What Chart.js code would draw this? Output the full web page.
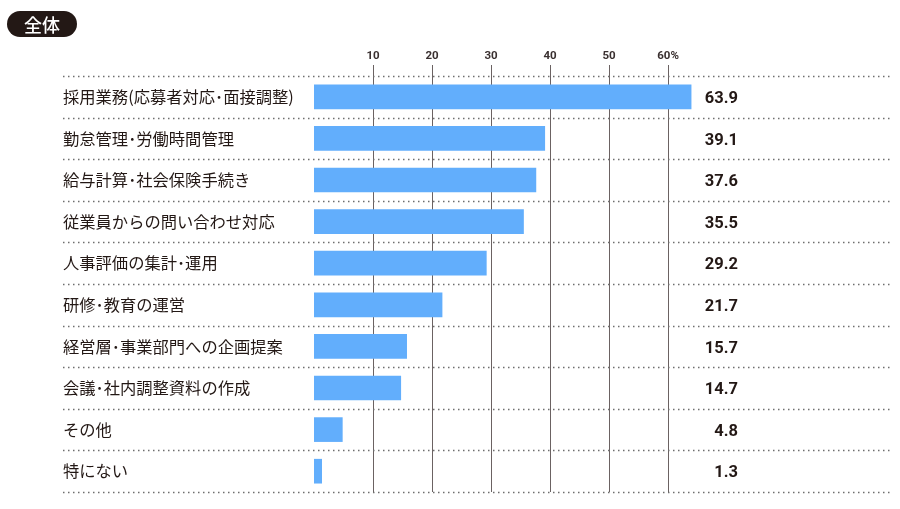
<!DOCTYPE html>
<html lang="ja">
<head>
    <meta charset="UTF-8">
    <title>全体</title>
    <script src="https://cdn.jsdelivr.net/npm/chart.js"></script>
    <style>
        body { margin: 0; background: #fff; font-family: "Noto Sans CJK JP", sans-serif; }
        #wrap { position: relative; width: 900px; height: 509px; }
        #badge {
            position: absolute; left: 7px; top: 11px; width: 70px; height: 26px;
            background: #231815; color: #fff; border-radius: 13px;
            font-size: 18px; font-weight: 500; line-height: 26px; text-align: center;
        }
        canvas { position: absolute; left: 0; top: 0; }
    </style>
</head>
<body>
<div id="wrap">
    <canvas id="chart" width="900" height="509"></canvas>
    <div id="badge">全体</div>
</div>
<script>
const categories = [
    '採用業務(応募者対応･面接調整)',
    '勤怠管理･労働時間管理',
    '給与計算･社会保険手続き',
    '従業員からの問い合わせ対応',
    '人事評価の集計･運用',
    '研修･教育の運営',
    '経営層･事業部門への企画提案',
    '会議･社内調整資料の作成',
    'その他',
    '特にない'
];
const values = [63.9, 39.1, 37.6, 35.5, 29.2, 21.7, 15.7, 14.7, 4.8, 1.3];
const xTicks = [10, 20, 30, 40, 50, 60];

const ink = '#231815';

// dotted row separators + value labels
const rowPlugin = {
    id: 'rows',
    beforeDatasetsDraw(chart) {
        const ctx = chart.ctx, area = chart.chartArea;
        const step = (area.bottom - area.top) / categories.length;
        ctx.save();
        ctx.strokeStyle = '#6e6e6e';
        ctx.lineWidth = 1.5;
        ctx.setLineDash([1.5, 3.5]);
        for (let i = 0; i <= categories.length; i++) {
            const py = Math.round(area.top + i * step) + 0.5;
            ctx.beginPath();
            ctx.moveTo(63, py);
            ctx.lineTo(area.right, py);
            ctx.stroke();
        }
        ctx.restore();
    },
    afterDatasetsDraw(chart) {
        const ctx = chart.ctx, y = chart.scales.y;
        ctx.save();
        ctx.fillStyle = ink;
        ctx.font = 'bold 16.5px Roboto, "Noto Sans", sans-serif';
        ctx.textAlign = 'right';
        ctx.textBaseline = 'middle';
        values.forEach((v, i) => {
            ctx.fillText(v.toFixed(1), 738, y.getPixelForValue(i) + 2);
        });
        ctx.restore();
    }
};

new Chart(document.getElementById('chart'), {
    type: 'bar',
    data: {
        labels: categories,
        datasets: [{
            data: values,
            backgroundColor: '#62aefc',
            borderWidth: 0,
            barThickness: 24
        }]
    },
    options: {
        indexAxis: 'y',
        responsive: false,
        animation: false,
        layout: { padding: { left: 63, right: 10, top: 0, bottom: 17 } },
        plugins: { legend: { display: false }, tooltip: { enabled: false } },
        scales: {
            x: {
                position: 'top',
                min: 0,
                max: 97.6,
                afterBuildTicks: s => { s.ticks = xTicks.map(v => ({ value: v })); },
                afterFit: s => { s.height = 76; },
                ticks: {
                    padding: 2,
                    color: '#3a3030',
                    font: { family: 'Roboto, "Noto Sans", sans-serif', size: 11.5, weight: 'bold' },
                    callback: v => v === 60 ? '60%' : v
                },
                grid: {
                    color: '#6b6262',
                    lineWidth: 1,
                    tickLength: 11,
                    tickColor: '#6b6262'
                },
                border: { display: false }
            },
            y: {
                afterFit: s => { s.width = 251; },
                ticks: {
                    crossAlign: 'far',
                    color: ink,
                    font: { family: '"Noto Sans CJK JP", sans-serif', size: 16.3 }
                },
                grid: { display: false },
                border: { display: false }
            }
        }
    },
    plugins: [rowPlugin]
});
</script>
</body>
</html>
